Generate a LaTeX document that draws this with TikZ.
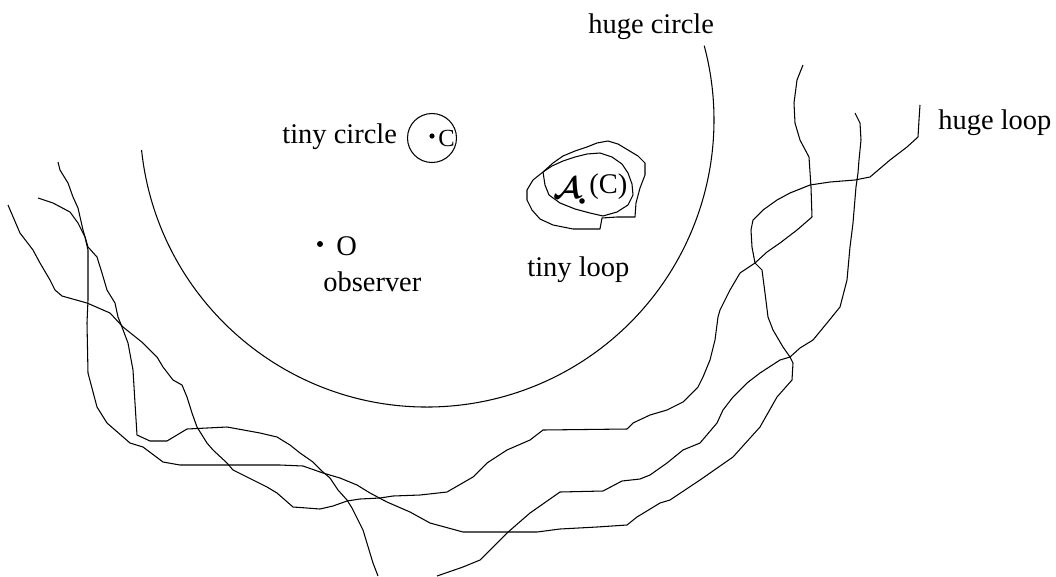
\documentclass[tikz,border=0pt]{standalone}
\usepackage{fontspec}
\setmainfont{Liberation Serif}

\begin{document}
\begin{tikzpicture}[x=0.020cm, y=-0.020cm,
  wire/.style={line width=0.6pt, black, line join=round},
  txt/.style={font=\fontsize{16.2}{19}\selectfont, inner sep=0pt, anchor=base west},
  dot/.style={fill=black}]
\useasboundingbox (0,0) rectangle (1056,576);
\begin{scope}
\draw[wire] (427,120) ++(174:287) arc[start angle=174, end angle=-15, radius=287];
\node[txt] (hugecircle) at (588,33) {huge circle};
\end{scope}
\begin{scope}
\draw[wire] (432,138) circle (24.5);
\fill[dot] (432,136) circle (2.6);
\node[txt, font=\fontsize{14}{16}\selectfont] (cc) at (438,146) {C};
\node[txt] (tinycircle) at (282,143) {tiny circle};
\end{scope}
\begin{scope}
\fill[dot] (320,244) circle (3);
\node[txt] (obs) at (336,255) {O};
\node[txt] (observer) at (323,291) {observer};
\end{scope}
\begin{scope}
\draw[wire] (543,172) -- (533,180) -- (527,190) -- (527,200) -- (532,210) -- (540,219) -- (553,225) -- (573,229) -- (600,229) -- (602,218) -- (617,217) -- (635,217) -- (636,203) -- (640,188) -- (645,175) -- (645,163) -- (638,156) -- (628,150) -- (618,144) -- (608,141) -- (597,143) -- (587,147) -- (575,151) -- (563,156) -- (553,163) -- cycle;
\draw[wire] (543,172) -- (545,185) -- (549,195) -- (560,203) -- (575,209) -- (590,213) -- (603,216) -- (617,212) -- (628,205) -- (633,195) -- (632,184) -- (628,173) -- (622,164) -- (612,157) -- (600,153) -- (587,154) -- (575,157) -- (563,161) -- (552,166) -- cycle;
\node[font=\fontsize{16}{18}\selectfont\boldmath, inner sep=0pt] (aa) at (567,188) {$\mathcal{A}$};
\fill[dot] (582,201) circle (2.8);
\node[txt] (ac) at (589,193) {(C)};
\node[txt] (tinyloop) at (527,276) {tiny loop};
\end{scope}
\begin{scope}
\draw[wire] (8,205) -- (20,233) -- (33,250) -- (40,263) -- (50,280) -- (55,290) -- (62,296) -- (87,303) -- (110,313) -- (123,327) -- (143,343) -- (157,357) -- (163,367) -- (173,380) -- (182,385) -- (187,397) -- (192,413) -- (197,427) -- (207,443) -- (213,450) -- (227,463) -- (233,470) -- (247,477) -- (267,487) -- (277,493) -- (293,507) -- (307,508) -- (320,509) -- (333,506) -- (347,501) -- (360,499) -- (380,498) -- (393,496) -- (420,495) -- (447,492) -- (473,477) -- (487,463) -- (507,450) -- (530,440) -- (543,430) -- (627,429) -- (633,423) -- (650,415) -- (667,410) -- (683,402) -- (698,387) -- (703,377) -- (710,360) -- (715,340) -- (718,317) -- (720,310) -- (730,290) -- (740,273) -- (755,263) -- (767,252) -- (780,243) -- (797,230) -- (812,217) -- (811,187) -- (809,157) -- (800,140) -- (795,123) -- (794,103) -- (797,80) -- (803,65);
\draw[wire] (38,198) -- (53,203) -- (70,212) -- (78,223) -- (85,237) -- (88,250) -- (88,300) -- (87,323) -- (88,373) -- (97,407) -- (107,423) -- (130,443) -- (143,447) -- (163,462) -- (180,465) -- (280,465) -- (303,466) -- (323,473) -- (340,478) -- (357,485) -- (370,493) -- (387,502) -- (410,512) -- (430,523) -- (463,532) -- (537,532) -- (560,529) -- (597,527) -- (627,525) -- (637,517) -- (660,503) -- (670,500) -- (700,480) -- (733,457) -- (760,427) -- (777,397) -- (792,380) -- (793,363) -- (790,357) -- (783,347) -- (773,330) -- (768,317) -- (765,293) -- (762,270) -- (755,263) -- (752,247) -- (751,230) -- (753,220) -- (763,210) -- (777,200) -- (790,193) -- (810,185) -- (830,182) -- (855,180) -- (870,177) -- (890,160) -- (907,147) -- (918,137) -- (919,120) -- (920,105);
\draw[wire] (58,162) -- (60,170) -- (68,183) -- (73,197) -- (78,208) -- (83,230) -- (88,247) -- (97,257) -- (102,273) -- (107,290) -- (115,303) -- (118,317) -- (122,327) -- (128,343) -- (133,370) -- (135,403) -- (137,435) -- (150,441) -- (167,441) -- (177,435) -- (187,429) -- (227,427) -- (260,433) -- (277,437) -- (290,445) -- (300,453) -- (313,462) -- (323,472) -- (330,478) -- (338,490) -- (347,500) -- (352,508) -- (358,520) -- (363,530) -- (373,563) -- (378,576);
\draw[wire] (855,113) -- (860,123) -- (861,140) -- (859,160) -- (858,173) -- (856,187) -- (853,223) -- (850,247) -- (847,280) -- (840,307) -- (827,323) -- (813,340) -- (800,348) -- (790,357) -- (780,360) -- (760,373) -- (747,383) -- (733,397) -- (723,410) -- (717,423) -- (700,443) -- (683,450) -- (667,463) -- (650,475) -- (640,479) -- (622,481) -- (603,491) -- (560,492) -- (530,513) -- (507,533) -- (480,560) -- (463,567) -- (437,576);
\node[txt] (hugeloop) at (938,129) {huge loop};
\end{scope}
\end{tikzpicture}
\end{document}
